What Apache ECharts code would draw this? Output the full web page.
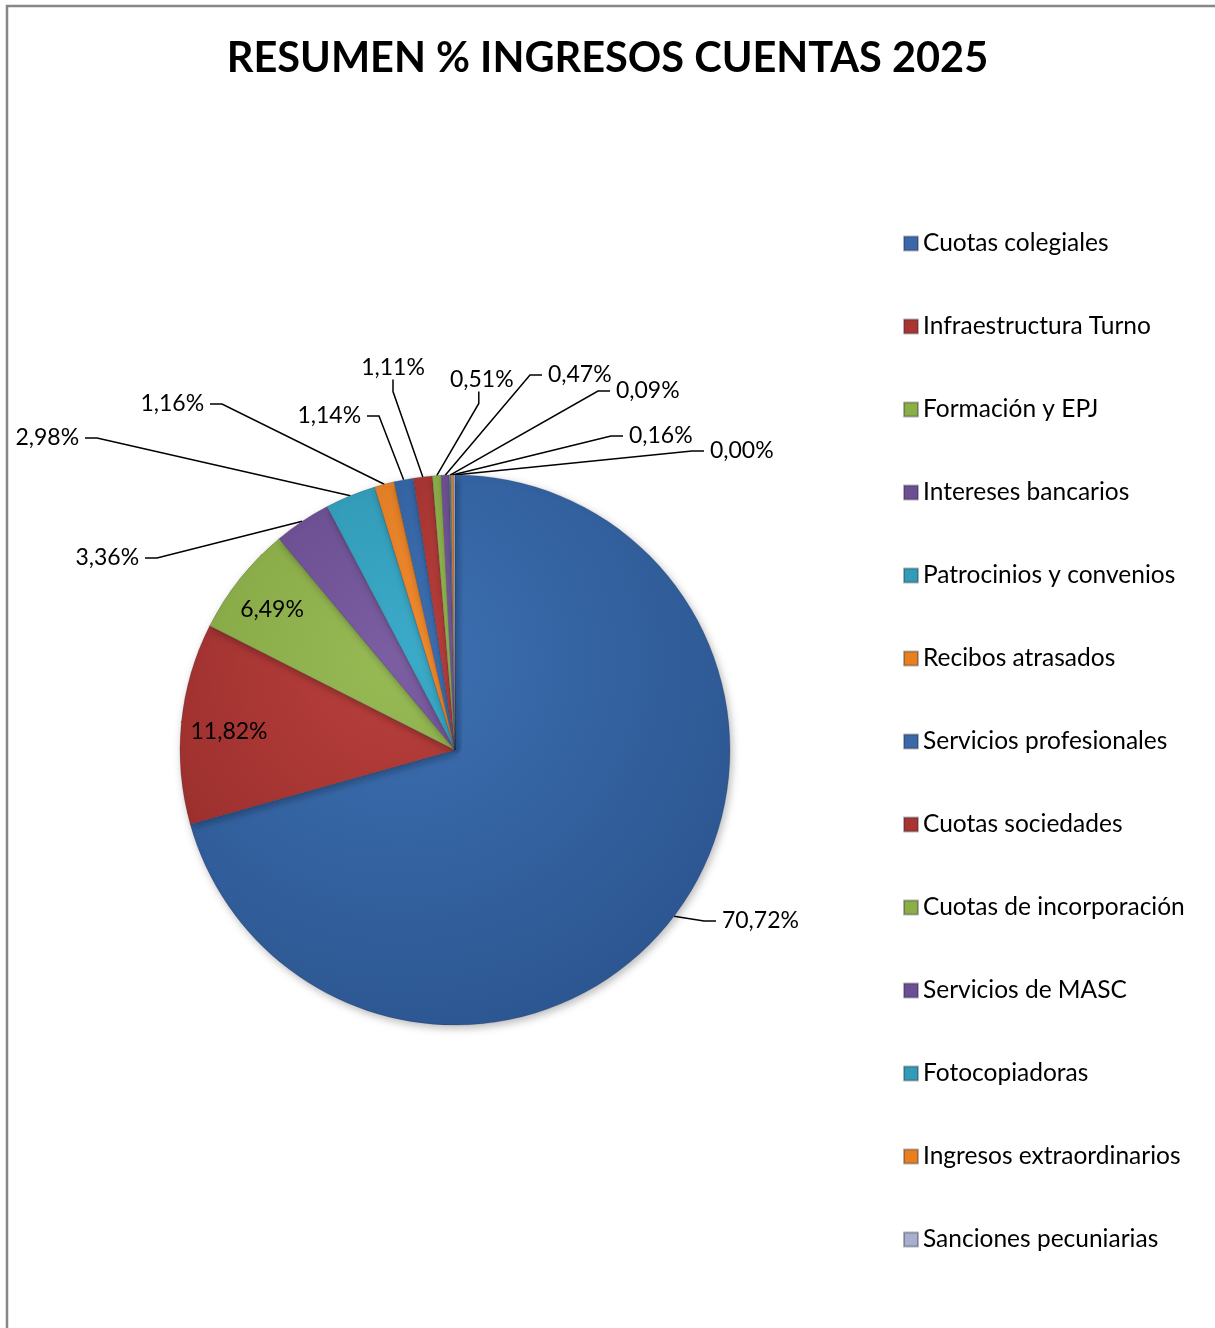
<!DOCTYPE html>
<html>
<head>
<meta charset="utf-8">
<script src="https://cdn.jsdelivr.net/npm/echarts@6/dist/echarts.min.js"></script>
<style>html,body{margin:0;padding:0;background:#fff}#c{width:1215px;height:1328px}</style>
</head>
<body>
<div id="c"></div>
<script>
const categories = ["Cuotas colegiales","Infraestructura Turno","Formación y EPJ","Intereses bancarios","Patrocinios y convenios","Recibos atrasados","Servicios profesionales","Cuotas sociedades","Cuotas de incorporación","Servicios de MASC","Fotocopiadoras","Ingresos extraordinarios","Sanciones pecuniarias"];
const values = [70.72, 11.82, 6.49, 3.36, 2.98, 1.16, 1.14, 1.11, 0.51, 0.47, 0.09, 0.16, 0.00];
const titleText = "RESUMEN % INGRESOS CUENTAS 2025";

// styles (not data)
const palette = [
  ['#3D70B2','#2A538D','#3B68A8'],
  ['#BA403D','#8A2624','#A83532'],
  ['#98BB56','#769636','#8CAE47'],
  ['#7C5EA2','#573C7C','#6C4F93'],
  ['#3BABC9','#2786A0','#329CB8'],
  ['#F28B2F','#CB6D17','#E8801F'],
  ['#B8C0DC','#949EC0','#A6AFCD']
];
const colorIdx = [0,1,2,3,4,5,0,1,2,3,4,5,6];
const labelPos = [
  [716,921,'left'],[229,732,'center'],[272,610,'center'],[145,558,'right'],
  [85,438,'right'],[210,404,'right'],[367,416,'right'],[393,368,'center'],
  [444,380,'left'],[542,375,'left'],[610,391,'left'],[623,436,'left'],[704,451,'left']
];
const FONT = 'Lato';

function fillFor(i){
  const c = palette[colorIdx[i]];
  return {type:'radial', x:400, y:660, r:430, global:true,
    colorStops:[{offset:0,color:c[0]},{offset:1,color:c[1]}]};
}

const data = values.map((v,i)=>({
  name: categories[i],
  value: v,
  itemStyle: {color: fillFor(i)},
  label: (i===1||i===2) ? {position:'inside'} : {}
}));

function fmt(p){
  const s = p.value.toFixed(2).replace('.',',')+'%';
  const a = labelPos[p.dataIndex][2];
  if (a==='left') return ' '+s;
  if (a==='right') return s+' ';
  return s;
}

const chart = echarts.init(document.getElementById('c'), null, {renderer:'canvas'});
chart.setOption({
  backgroundColor:'#fff',
  animation:false,
  title:{text:titleText, left:'center', top:33,
    textStyle:{fontFamily:FONT, fontWeight:'bold', fontSize:41.5, color:'#000'}},
  graphic:[{type:'rect', shape:{x:7,y:6,width:1230,height:1340},
    style:{fill:'none', stroke:'#878787', lineWidth:2.5}, silent:true}],
  legend:{
    orient:'vertical', left:903, top:231, padding:0, itemWidth:14, itemHeight:14, itemGap:58,
    icon:'rect',
    textStyle:{fontFamily:FONT, fontSize:24.5, lineHeight:24, color:'#000'},
    data: categories.map((n,i)=>({name:n, itemStyle:{color:palette[colorIdx[i]][2]}}))
  },
  series:[{
    type:'pie',
    center:[455,750],
    radius:275,
    startAngle:90,
    clockwise:true,
    minAngle:0.3,
    avoidLabelOverlap:false,
    data:data,
    itemStyle:{borderColor:'rgba(40,40,60,0.35)', borderWidth:0.6,
      shadowBlur:8, shadowColor:'rgba(0,0,0,0.28)', shadowOffsetX:2, shadowOffsetY:3},
    label:{show:true, position:'outside', fontFamily:FONT, fontSize:23, color:'#000',
      formatter:fmt},
    labelLine:{show:true, length:15, length2:12, lineStyle:{color:'#000', width:1.5}},
    labelLayout:function(params){
      const p = labelPos[params.dataIndex];
      return {x:p[0], y:p[1], align:p[2], verticalAlign:'middle'};
    },
    emphasis:{disabled:true}
  }]
});
</script>
</body>
</html>
